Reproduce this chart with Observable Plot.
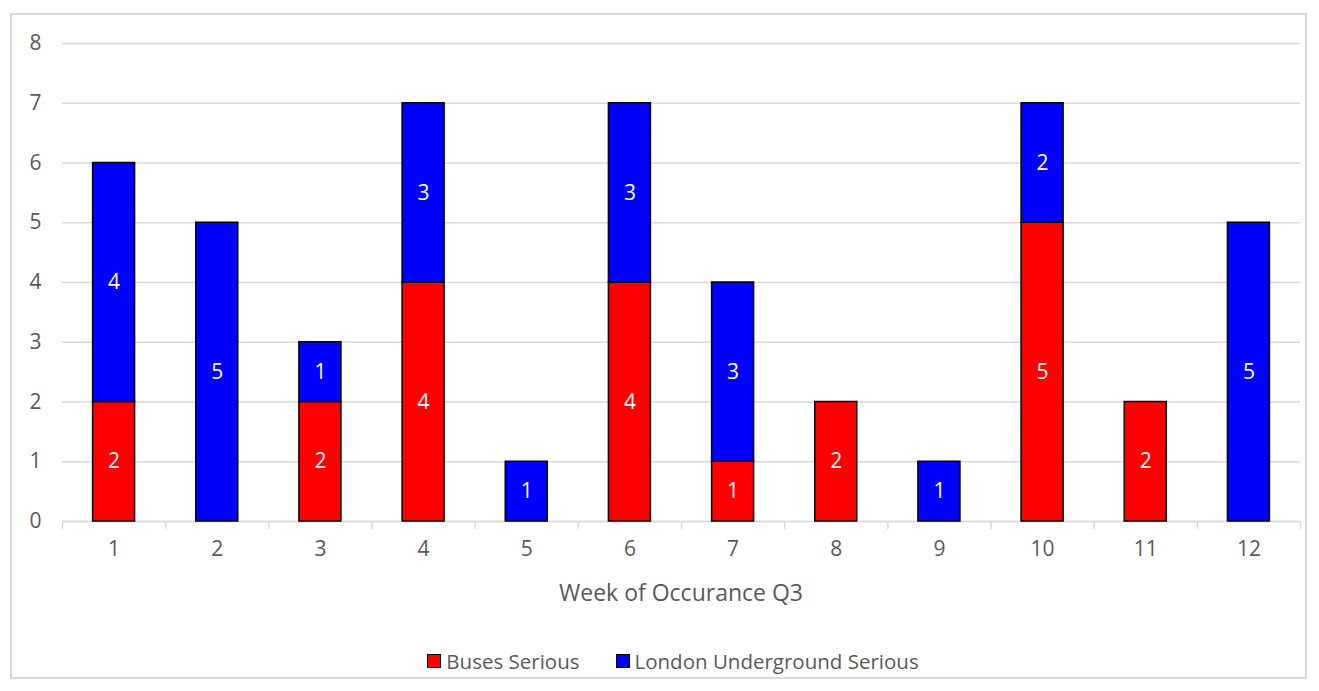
<!DOCTYPE html>
<html>
<head>
<meta charset="utf-8">
<script src="https://cdn.jsdelivr.net/npm/d3@7"></script>
<script src="https://cdn.jsdelivr.net/npm/@observablehq/plot@0.6"></script>
<style>
  html, body { margin: 0; padding: 0; background: #fff; }
  body { width: 1319px; height: 691px; position: relative; overflow: hidden; font-family: "Open Sans", sans-serif; }
  #frame { position: absolute; left: 10px; top: 13px; width: 1297px; height: 666px; border: 2px solid #d9d9d9; box-sizing: border-box; }
  #chart { position: absolute; left: 0; top: 0; }
  #chart svg text { font-size: 21px !important; font-family: "Open Sans", sans-serif !important; }
  #xtitle { position: absolute; left: 62px; width: 1238px; top: 576px; line-height: 32px; text-align: center; font-size: 23px; color: #595959; }
  #legend { position: absolute; left: 0; top: 646px; height: 30px; width: 1346px; display: flex; justify-content: center; align-items: center; gap: 36px; font-size: 20.5px; color: #595959; }
  .item { display: flex; align-items: center; gap: 5px; }
  .sw { width: 14px; height: 14px; border: 1.5px solid #000; box-sizing: border-box; }
</style>
</head>
<body>
<div id="frame"></div>
<div id="chart"></div>
<div id="xtitle"></div>
<div id="legend"></div>
<script>
const weeks = [1, 2, 3, 4, 5, 6, 7, 8, 9, 10, 11, 12];
const busesSerious = [2, 0, 2, 4, 0, 4, 1, 2, 0, 5, 2, 0];
const undergroundSerious = [4, 5, 1, 3, 1, 3, 3, 0, 1, 2, 0, 5];
const seriesNames = ["Buses Serious", "London Underground Serious"];
const seriesColors = ["#ff0000", "#0000ff"];
const yTicks = [0, 1, 2, 3, 4, 5, 6, 7, 8];
const xTitle = "Week of Occurance Q3";

// build stacked segments
const rows = [];
weeks.forEach((w, i) => {
  const b = busesSerious[i], u = undergroundSerious[i];
  rows.push({week: w, series: seriesNames[0], value: b, y1: 0, y2: b});
  rows.push({week: w, series: seriesNames[1], value: u, y1: b, y2: b + u});
});
const segs = rows.filter(d => d.value > 0);
const boundaries = d3.range(weeks[0] - 0.5, weeks[weeks.length - 1] + 1, 1);

const W = 1319, mL = 62, mR = 19;
const step = (W - mL - mR) / weeks.length;
const inset = (step - 42) / 2;

const chart = Plot.plot({
  width: W,
  height: 620,
  marginLeft: mL,
  marginRight: mR,
  marginTop: 43,
  marginBottom: 99,
  style: {fontFamily: "'Open Sans', sans-serif", fontSize: "21px", color: "#595959", background: "transparent"},
  x: {type: "linear", domain: [0.5, 12.5]},
  y: {domain: [0, 8]},
  color: {domain: seriesNames, range: seriesColors},
  marks: [
    Plot.gridY(yTicks, {stroke: "#d9d9d9", strokeOpacity: 1, strokeWidth: 1.5}),
    Plot.axisY(yTicks, {tickSize: 0, tickPadding: 21, label: null, fill: "#595959", fontSize: 21, tickFormat: d => String(d)}),
    Plot.ruleY([0], {stroke: "#d9d9d9", strokeWidth: 1.5}),
    Plot.axisX(boundaries, {tickSize: 8, tickFormat: () => "", stroke: "#d9d9d9", strokeWidth: 1.5, label: null}),
    Plot.axisX(weeks, {tickSize: 0, tickPadding: 20, tickFormat: d => String(d), fill: "#595959", fontSize: 21, label: null}),
    Plot.rectY(segs, {x1: d => d.week - 0.5, x2: d => d.week + 0.5, y1: "y1", y2: "y2", fill: "series",
      stroke: "#000", strokeWidth: 1.5, insetLeft: inset, insetRight: inset}),
    Plot.text(segs, {x: "week", y: d => (d.y1 + d.y2) / 2, text: d => String(d.value), fill: "#fff", fontSize: 21})
  ]
});
d3.select(chart).selectAll("text").attr("font-size", 21);
document.getElementById("chart").appendChild(chart);
document.getElementById("xtitle").textContent = xTitle;

const legend = document.getElementById("legend");
seriesNames.forEach((name, i) => {
  const item = document.createElement("div");
  item.className = "item";
  const sw = document.createElement("div");
  sw.className = "sw";
  sw.style.background = seriesColors[i];
  const t = document.createElement("span");
  t.textContent = name;
  item.appendChild(sw);
  item.appendChild(t);
  legend.appendChild(item);
});
</script>
</body>
</html>
